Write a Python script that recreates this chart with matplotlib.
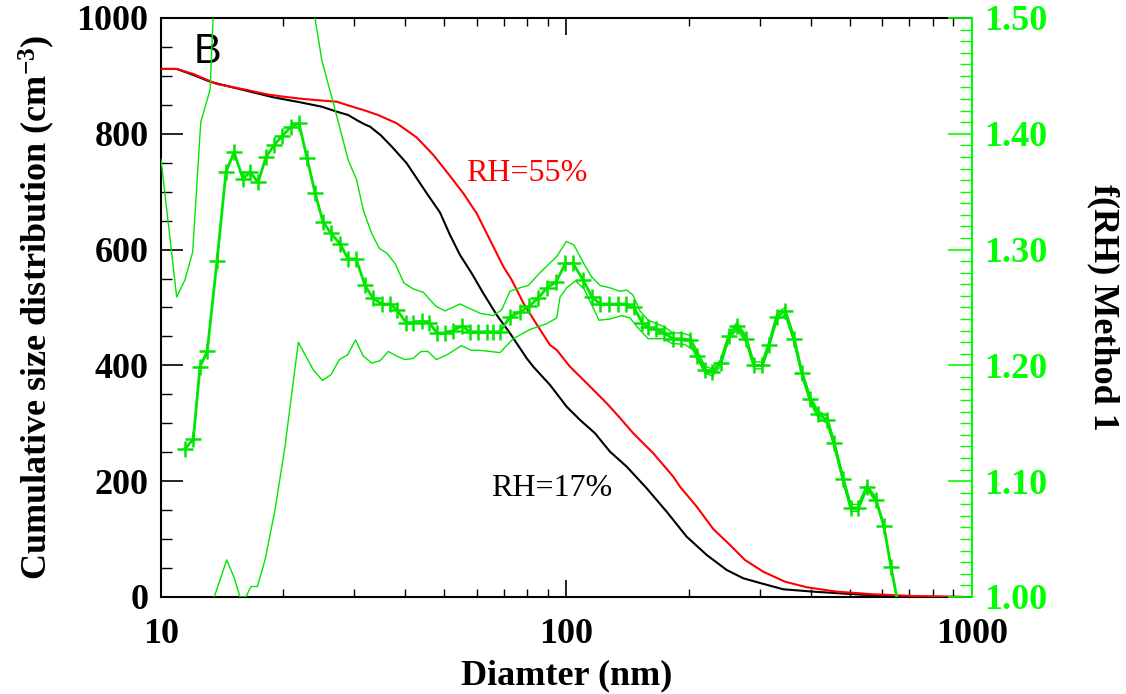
import matplotlib
matplotlib.use("Agg")
import matplotlib.pyplot as plt
from matplotlib.ticker import FixedLocator, MultipleLocator, NullFormatter, LogLocator

plt.rcParams["mathtext.fontset"] = "custom"
plt.rcParams["mathtext.bf"] = "Liberation Serif:bold"
plt.rcParams["mathtext.rm"] = "Liberation Serif:bold"
plt.rcParams["mathtext.it"] = "Liberation Serif:bold"

# ---------------- data ----------------
# RH=17% cumulative size distribution (cm^-3)
d_black = [10, 10.93, 12.01, 13.21, 13.98, 15.96, 18.92, 22.02, 24.9, 27.13, 28.92, 30.66,
           31.85, 32.77, 34.88, 37.4, 40.36, 42.72, 45.22, 48.75, 51.61, 54.62, 58.36, 62.35,
           67.29, 72.56, 79.77, 82.8, 91.06, 100.1, 108, 117.6, 128, 140.8, 157.7, 176.6,
           197.9, 221.8, 248.4, 272.9, 300, 342.4, 406.2, 500.2, 593.1, 716.5, 950.2]
n_black = [912, 912, 901.6, 890, 885.5, 875.7, 863, 854.4, 846.8, 838.2, 832.5, 822.1,
           816, 812.3, 797.1, 775, 749, 723.1, 697.2, 664.1, 625.2, 590.7, 559.1, 524.5,
           487, 455.4, 412.3, 397.8, 366.2, 328.7, 305.7, 282.7, 251, 225, 187.7, 147.3,
           104.1, 72.5, 46.6, 32.3, 24.2, 13.3, 9.2, 5.2, 2.2, 0.5, 0]

# RH=55% cumulative size distribution (cm^-3)
d_red = [10, 10.93, 12.01, 13.72, 15.96, 18.23, 20.03, 22.44, 25.12, 27.13, 29.25, 31.54,
         34.28, 38.13, 42.72, 46.95, 51.61, 55.66, 60.03, 64.78, 69.88, 73.28, 78.27, 84.6,
         91.06, 94.6, 102, 113, 125.7, 135.5, 146.1, 163.7, 183.4, 190.5, 209.5, 230.1,
         253.1, 275.5, 305.6, 345.8, 391.3, 463.8, 571, 716.5, 950]
n_red = [912, 912, 903.3, 886, 876.9, 868.2, 864.1, 860.1, 857.2, 855.4, 848, 841.1,
         832.5, 818.1, 793.6, 763.4, 727.1, 697.2, 662.7, 616.6, 570.5, 547.5, 507.8, 469.8,
         435.2, 426.6, 397.8, 367, 334.5, 309.2, 282.7, 248.2, 207.8, 190.5, 156, 117.4,
         89.8, 63.9, 43.7, 26.4, 16.8, 9.2, 4.7, 1.7, 0]

# f(RH) Method 1 (main series with markers)
d_f = [11.46, 12.01, 12.48, 13.0, 13.74, 14.46, 15.14, 15.93, 16.58, 17.35, 18.16, 18.99,
       19.88, 20.92, 21.89, 22.91, 23.98, 25.08, 26.26, 27.64, 28.92, 30.27, 31.85, 33.33,
       35.08, 36.70, 38.19, 40.19, 41.83, 44.02, 45.81, 47.94, 50.16, 52.49, 55.25, 57.81,
       60.50, 63.68, 65.89, 68.55, 72.56, 76.80, 80.83, 85.07, 89.53, 94.21, 99.4, 103.8,
       109.8, 115.6, 121.0, 127.3, 133.6, 140.2, 146.7, 153.6, 158.9, 166.3, 174.0, 183.1,
       191.6, 201.1, 210.4, 220.2, 229.1, 239.8, 251.6, 263.3, 277.1, 290.0, 303.5, 315.8,
       330.5, 345.8, 363.9, 380.9, 398.6, 417.1, 439.0, 456.8, 480.8, 503.1, 523.6, 550.8,
       579.7, 606.7, 631.2, 660.7]
f_main = [1.128, 1.136, 1.199, 1.212, 1.290, 1.367, 1.384, 1.361, 1.367, 1.358, 1.380, 1.390,
          1.398, 1.406, 1.409, 1.379, 1.349, 1.324, 1.314, 1.305, 1.292, 1.292, 1.269, 1.258,
          1.253, 1.253, 1.248, 1.237, 1.237, 1.238, 1.237, 1.228, 1.228, 1.230, 1.234, 1.229,
          1.229, 1.229, 1.229, 1.229, 1.242, 1.246, 1.251, 1.258, 1.267, 1.272, 1.288, 1.288,
          1.274, 1.259, 1.253, 1.253, 1.253, 1.253, 1.250, 1.237, 1.233, 1.231, 1.228, 1.223,
          1.223, 1.222, 1.208, 1.196, 1.194, 1.202, 1.225, 1.234, 1.223, 1.200, 1.200, 1.218,
          1.242, 1.247, 1.223, 1.193, 1.171, 1.158, 1.153, 1.133, 1.102, 1.077, 1.077, 1.095,
          1.084, 1.061, 1.026, 0.990]

# upper uncertainty bound
d_up = [10, 10.93, 11.46, 11.97, 12.53, 13.21, 13.44, 14.0, 18.0, 22.91, 23.98, 24.9, 26.86,
        28.97, 30.38, 31.54, 33.08, 34.54, 36.04, 37.77, 39.75, 41.9, 44.36, 47.68, 50.16,
        54.62, 57.81, 61.19, 66.0, 69.2, 72.56, 76.8, 80.5, 86.0, 94.6, 99.9, 104.3, 111.1,
        115.6, 121.0, 128.0, 135.5, 140.8, 145.7, 151.8, 159.1, 166.9, 175.0, 182.8, 192.3,
        200.9, 210.4, 220.2, 229.1, 239.8, 251.6, 263.3, 277.1, 290.0, 303.5, 315.8, 330.5,
        345.8, 363.9, 380.9, 398.6, 417.1, 439.0, 456.8, 480.8, 503.1, 523.6, 550.8, 579.7,
        606.7, 631.2, 660.7]
f_up = [1.378, 1.259, 1.274, 1.298, 1.410, 1.438, 1.500, 1.700, 1.700, 1.550, 1.500, 1.464, 1.421,
        1.377, 1.360, 1.334, 1.314, 1.301, 1.297, 1.288, 1.271, 1.266, 1.263, 1.251, 1.247,
        1.253, 1.249, 1.245, 1.243, 1.248, 1.264, 1.267, 1.269, 1.280, 1.294, 1.307, 1.304,
        1.286, 1.276, 1.269, 1.267, 1.264, 1.265, 1.261, 1.247, 1.239, 1.236, 1.233, 1.228,
        1.228, 1.226, 1.212, 1.199, 1.197, 1.205, 1.228, 1.237, 1.226, 1.203, 1.203, 1.221,
        1.245, 1.250, 1.226, 1.196, 1.174, 1.161, 1.156, 1.136, 1.105, 1.080, 1.080, 1.097,
        1.086, 1.062, 1.027, 0.990]

# lower uncertainty bound
d_lo = [13.2, 13.53, 14.52, 15.14, 15.66, 16.18, 16.67, 17.28, 18.05, 19.1, 20.22, 21.81,
        23.75, 25.02, 26.26, 27.53, 28.84, 30.18, 31.54, 33.08, 34.68, 36.35, 38.13, 39.97,
        41.9, 43.77, 45.53, 47.75, 50.66, 55.03, 58.36, 61.19, 68.55, 73.9, 81.28, 89.4,
        94.6, 96.4, 100.1, 105.2, 110.5, 120.3, 128.0, 136.8, 143.4, 150.4, 159.1, 173.3,
        181.7, 196.0, 205.5, 210.4, 220.2, 229.1, 239.8, 251.6, 263.3, 277.1, 290.0, 303.5,
        315.8, 330.5, 345.8, 363.9, 380.9, 398.6, 417.1, 439.0, 456.8, 480.8, 503.1, 523.6,
        550.8, 579.7, 606.7, 631.2, 660.7]
f_lo = [0.970, 1.000, 1.032, 1.017, 1.000, 1.000, 1.009, 1.009, 1.032, 1.075, 1.130, 1.220,
        1.196, 1.187, 1.192, 1.205, 1.209, 1.222, 1.208, 1.202, 1.204, 1.212, 1.208, 1.205,
        1.206, 1.212, 1.212, 1.205, 1.209, 1.217, 1.213, 1.213, 1.211, 1.223, 1.231, 1.236,
        1.241, 1.259, 1.267, 1.273, 1.266, 1.239, 1.240, 1.243, 1.241, 1.232, 1.223, 1.223,
        1.219, 1.218, 1.213, 1.205, 1.193, 1.191, 1.199, 1.222, 1.231, 1.220, 1.197, 1.197,
        1.215, 1.239, 1.244, 1.220, 1.190, 1.168, 1.155, 1.150, 1.130, 1.099, 1.074, 1.074,
        1.093, 1.082, 1.060, 1.025, 0.990]

left_ticks = [0, 200, 400, 600, 800, 1000]
left_labels = ["0", "200", "400", "600", "800", "1000"]
right_ticks = [1.00, 1.10, 1.20, 1.30, 1.40, 1.50]
right_labels = ["1.00", "1.10", "1.20", "1.30", "1.40", "1.50"]
x_ticks = [10, 100, 1000]
x_labels = ["10", "100", "1000"]

# ---------------- style ----------------
SERIF = "Liberation Serif"
GREEN = "#00ff00"
LGREEN = "#00e600"
FS = 26

fig = plt.figure(figsize=(11.26, 6.94), dpi=100)
ax = fig.add_axes([0.143, 0.1398, 0.7202, 0.8343])
ax2 = ax.twinx()

ax.plot(d_black, n_black, color="black", lw=1.5, zorder=3)
ax.plot(d_red, n_red, color="red", lw=1.5, zorder=3)

ax2.plot(d_up, f_up, color=LGREEN, lw=1.0)
ax2.plot(d_lo, f_lo, color=LGREEN, lw=1.0)
ax2.plot(d_f, f_main, color=LGREEN, lw=2.0, marker="+", markersize=12,
         markeredgewidth=1.8)

ax.set_xscale("log")
ax.set_xlim(10, 1000)
ax.set_ylim(0, 1000)
ax2.set_ylim(1.0, 1.5)

# x ticks
ax.xaxis.set_major_locator(FixedLocator(x_ticks))
ax.xaxis.set_minor_locator(LogLocator(base=10, subs=[2, 3, 4, 5, 6, 7, 8, 9]))
ax.xaxis.set_minor_formatter(NullFormatter())
ax.set_xticklabels(x_labels)
ax.tick_params(axis="x", which="major", direction="in", length=12, width=1.2,
               top=True, bottom=True, pad=15)
ax.tick_params(axis="x", which="minor", direction="in", length=6, width=1.0,
               top=True, bottom=True)

# left y ticks
ax.set_yticks(left_ticks)
ax.set_yticklabels(left_labels)
ax.yaxis.set_minor_locator(MultipleLocator(50))
ax.tick_params(axis="y", which="major", direction="in", length=16, width=1.2,
               left=True, right=False, pad=9)
ax.tick_params(axis="y", which="minor", direction="in", length=8, width=1.0,
               left=True, right=False)

# right y ticks
ax2.set_yticks(right_ticks)
ax2.set_yticklabels(right_labels)
ax2.yaxis.set_minor_locator(MultipleLocator(0.01))
ax2.tick_params(axis="y", which="major", direction="in", length=17, width=1.2,
                colors=GREEN, pad=9)
ax2.tick_params(axis="y", which="minor", direction="in", length=9, width=1.0,
                colors=GREEN)

for lab in ax.get_xticklabels() + ax.get_yticklabels():
    lab.set_fontfamily(SERIF)
    lab.set_fontweight("bold")
    lab.set_fontsize(FS)
for lab in ax2.get_yticklabels():
    lab.set_fontfamily(SERIF)
    lab.set_fontweight("bold")
    lab.set_fontsize(FS)
    lab.set_color(GREEN)

for s in ["left", "bottom", "top"]:
    ax.spines[s].set_linewidth(1.5)
ax.spines["right"].set_visible(False)
ax2.spines["right"].set_color(GREEN)
ax2.spines["right"].set_linewidth(1.5)
for s in ["left", "bottom", "top"]:
    ax2.spines[s].set_visible(False)

ax.set_xlabel("Diamter (nm)", fontfamily=SERIF, fontweight="bold", fontsize=FS, labelpad=6)
ax.set_ylabel("Cumulative size distribution (cm$^{\\mathbf{-3}}$)", fontfamily=SERIF,
              fontweight="bold", fontsize=FS, labelpad=14)
ax2.set_ylabel("f(RH) Method 1", fontfamily=SERIF, fontweight="bold", fontsize=FS,
               rotation=270, labelpad=52, color="black")

ax.text(0.057, 0.941, "B", transform=ax.transAxes, fontfamily="Liberation Sans",
        fontsize=30, ha="center", va="center")
ax.text(0.451, 0.7306, "RH=55%", transform=ax.transAxes, fontfamily=SERIF,
        fontsize=23, color="red", ha="center", va="center")
ax.text(0.482, 0.188, "RH=17%", transform=ax.transAxes, fontfamily=SERIF,
        fontsize=23, color="black", ha="center", va="center")

fig.savefig("out.png", dpi=100)
